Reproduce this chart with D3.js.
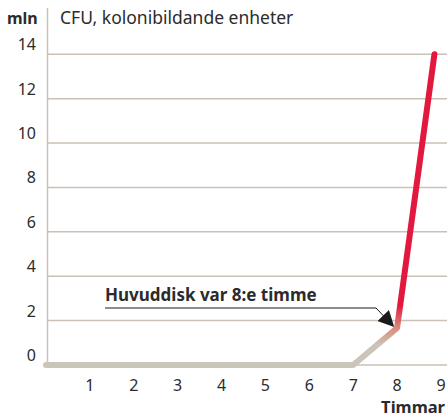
<!DOCTYPE html>
<html>
<head>
<meta charset="utf-8">
<script src="https://cdn.jsdelivr.net/npm/d3@7"></script>
<style>
  body { margin: 0; background: #fff; }
  text { font-family: "Noto Sans", "Open Sans", sans-serif; fill: #2b2b2b; }
</style>
</head>
<body>
<div id="chart"></div>
<script>
// hours and CFU (millions)
var hours = [0, 7, 8, 8.85];
var cfu = [0, 0, 1.67, 14];
var yTicks = [0, 2, 4, 6, 8, 10, 12, 14];
var xTicks = [1, 2, 3, 4, 5, 6, 7, 8, 9];
var noteText = "Huvuddisk var 8:e timme";
var noteHour = 8;

var width = 447, height = 418;
var svg = d3.select("#chart").append("svg")
    .attr("width", width)
    .attr("height", height);

var x = d3.scaleLinear().domain([0, 9]).range([46, 441]);
var y = d3.scaleLinear().domain([0, 14]).range([365, 54.3]);

var grid = "#c9c0b6";

// gridlines
svg.selectAll(".grid")
  .data(yTicks)
  .enter().append("line")
    .attr("x1", 47).attr("x2", width)
    .attr("y1", function(d) { return y(d); })
    .attr("y2", function(d) { return y(d); })
    .attr("stroke", grid)
    .attr("stroke-width", 1.5);

// y axis line
svg.append("line")
    .attr("x1", 47.5).attr("x2", 47.5)
    .attr("y1", 8).attr("y2", 365)
    .attr("stroke", grid)
    .attr("stroke-width", 1.5);

// y labels (sit above the gridline)
svg.selectAll(".ylab")
  .data(yTicks)
  .enter().append("text")
    .attr("x", 36)
    .attr("y", function(d) { return y(d) - 4; })
    .attr("text-anchor", "end")
    .style("font-size", "16px")
    .text(function(d) { return d; });

// x labels
svg.selectAll(".xlab")
  .data(xTicks)
  .enter().append("text")
    .attr("x", function(d) { return x(d); })
    .attr("y", 391)
    .attr("text-anchor", "middle")
    .style("font-size", "16px")
    .text(function(d) { return d; });

svg.append("text")
    .attr("x", 7).attr("y", 24)
    .style("font-size", "16px")
    .style("font-weight", "bold")
    .text("mln");

svg.append("text")
    .attr("x", 60).attr("y", 24)
    .style("font-size", "17.5px")
    .text("CFU, kolonibildande enheter");

svg.append("text")
    .attr("x", 445).attr("y", 413)
    .attr("text-anchor", "end")
    .style("font-size", "16.5px")
    .style("font-weight", "bold")
    .text("Timmar");

// gradient along y: grey -> salmon -> red
var defs = svg.append("defs");
var grad = defs.append("linearGradient")
    .attr("id", "lineGrad")
    .attr("gradientUnits", "userSpaceOnUse")
    .attr("x1", 0).attr("x2", 0)
    .attr("y1", y(0)).attr("y2", y(14));
[[0, "#cbc4b9"], [0.9, "#cbc4b9"], [1.67, "#d98c7a"], [2.7, "#e2183f"], [14, "#e2183f"]]
  .forEach(function(s) {
    grad.append("stop")
        .attr("offset", s[0] / 14)
        .attr("stop-color", s[1]);
  });

var line = d3.line()
    .x(function(d, i) { return x(hours[i]); })
    .y(function(d) { return y(d); });

svg.append("path")
    .datum(cfu)
    .attr("d", line)
    .attr("fill", "none")
    .attr("stroke", "url(#lineGrad)")
    .attr("stroke-width", 6)
    .attr("stroke-linecap", "round")
    .attr("stroke-linejoin", "round");

// annotation with arrow
defs.append("marker")
    .attr("id", "arrow")
    .attr("viewBox", "0 0 10 10")
    .attr("refX", 9).attr("refY", 5)
    .attr("markerWidth", 16).attr("markerHeight", 16)
    .attr("markerUnits", "userSpaceOnUse")
    .attr("orient", "auto")
  .append("path")
    .attr("d", "M0,0 L10,5 L0,10 Z")
    .attr("fill", "#1a1a1a");

var px = x(noteHour), py = y(cfu[2]);
svg.append("text")
    .attr("x", 105).attr("y", 301)
    .style("font-size", "17px")
    .style("font-weight", "bold")
    .text(noteText);

svg.append("path")
    .attr("d", "M105,308 L376,308 L" + (px - 4) + "," + (py - 2))
    .attr("fill", "none")
    .attr("stroke", "#1a1a1a")
    .attr("stroke-width", 1)
    .attr("marker-end", "url(#arrow)");
</script>
</body>
</html>
